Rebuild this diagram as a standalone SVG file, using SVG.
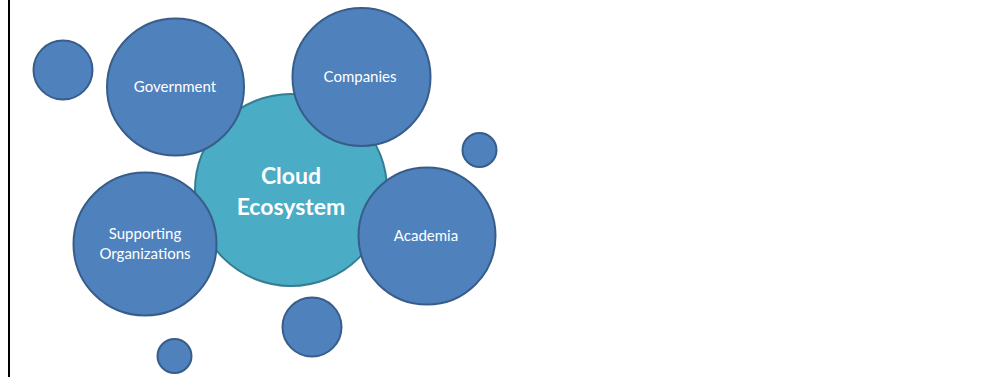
<svg xmlns="http://www.w3.org/2000/svg" width="1003" height="377" viewBox="0 0 1003 377">
<style>
.b{fill:#4F81BD;stroke:#385D8A;stroke-width:2}
.c{fill:#4BACC6;stroke:#357D91;stroke-width:2}
.t{font-family:Lato,"Open Sans","Liberation Sans",sans-serif;font-size:15px;fill:#ffffff;text-anchor:middle}
.tb{font-family:Lato,"Open Sans","Liberation Sans",sans-serif;font-size:23px;font-weight:bold;fill:#ffffff;text-anchor:middle}
</style>
<rect x="0" y="0" width="1003" height="377" fill="#ffffff"/>
<line x1="9" y1="0" x2="9" y2="377" stroke="#000000" stroke-width="2"/>
<g id="connectors"></g>
<g id="cloud"><circle class="c" cx="291" cy="190" r="96"/><text class="tb" x="291" y="184">Cloud</text><text class="tb" x="291" y="215">Ecosystem</text></g>
<g id="dot1"><circle class="b" cx="63" cy="70" r="29.5"/></g>
<g id="government"><circle class="b" cx="175.5" cy="87" r="68.5"/><text class="t" x="175" y="92">Government</text></g>
<g id="companies"><circle class="b" cx="361.5" cy="77" r="69"/><text class="t" x="360" y="82">Companies</text></g>
<g id="dot2"><circle class="b" cx="479.5" cy="150" r="17"/></g>
<g id="academia"><circle class="b" cx="427" cy="236" r="68.5"/><text class="t" x="426" y="241">Academia</text></g>
<g id="supporting"><circle class="b" cx="145" cy="244" r="71.5"/><text class="t" x="145" y="239">Supporting</text><text class="t" x="145" y="259">Organizations</text></g>
<g id="dot3"><circle class="b" cx="312" cy="327" r="29.5"/></g>
<g id="dot4"><circle class="b" cx="174.5" cy="356" r="17"/></g>
</svg>
